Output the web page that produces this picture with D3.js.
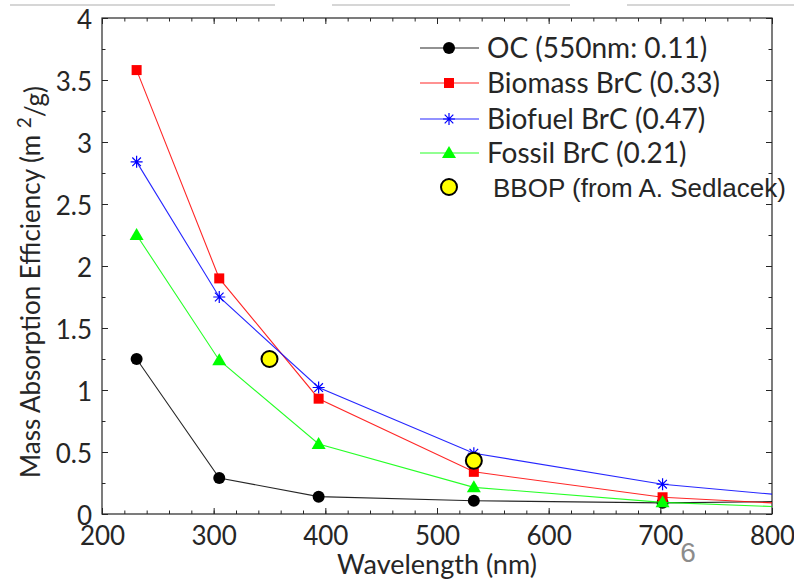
<!DOCTYPE html>
<html><head><meta charset="utf-8">
<script src="https://cdn.jsdelivr.net/npm/d3@7"></script>
<style>body{margin:0;background:#fff}svg{display:block}</style>
</head><body>
<svg id="c" width="794" height="580"></svg>
<script>
// ---- data ----
const wavelengths = [231, 305, 394, 533, 702, 800]; // last entry: line continues to axis edge (no marker)
const markerCount = 5;
const ocValues      = [1.25, 0.29, 0.14, 0.107, 0.09, 0.10];
const biomassValues = [3.58, 1.90, 0.93, 0.34, 0.135, 0.09];
const biofuelValues = [2.84, 1.75, 1.02, 0.49, 0.24, 0.16];
const fossilValues  = [2.25, 1.24, 0.565, 0.215, 0.094, 0.06];
const bbopWavelengths = [350, 533];
const bbopValues      = [1.25, 0.43];
const seriesNames = ["OC (550nm: 0.11)", "Biomass BrC (0.33)", "Biofuel BrC (0.47)", "Fossil BrC (0.21)"];
const bbopName = "BBOP (from A. Sedlacek)";
const xTicks = [200, 300, 400, 500, 600, 700, 800];
const yTicks = [0, 0.5, 1, 1.5, 2, 2.5, 3, 3.5, 4];
const xLabel = "Wavelength (nm)";
const pageNumber = "6";

const svg = d3.select("#c");
const L = 102, R = 772, T = 18, B = 514;
const x = d3.scaleLinear().domain([200, 800]).range([L, R]);
const y = d3.scaleLinear().domain([0, 4]).range([B, T]);
const font = "Lato, 'Open Sans', sans-serif";
const textColor = "#262626";

// slide decoration lines
[[10, 275], [332, 570], [627, 794]].forEach(([a, b]) =>
  svg.append("line").attr("x1", a).attr("x2", b).attr("y1", 5).attr("y2", 5)
    .attr("stroke", "#c8c8c8").attr("stroke-width", 1.5));

// clip
svg.append("clipPath").attr("id", "clip").append("rect")
  .attr("x", L).attr("y", T).attr("width", R - L).attr("height", B - T);

// axes (ticks inward)
const axisColor = "#262626";
function styleAxis(g) {
  g.selectAll("path").attr("stroke", axisColor);
  g.selectAll("line").attr("stroke", axisColor);
  g.selectAll("text").attr("fill", textColor).attr("font-family", font).attr("font-size", 26);
}
const xMinor = d3.range(200, 801, 20);
const yMinor = d3.range(0, 4.01, 0.25);
svg.append("g").attr("transform", `translate(0,${B})`)
  .call(d3.axisBottom(x).tickValues(xMinor).tickSize(-3.5).tickFormat("")).call(styleAxis).select("path").remove();
svg.append("g").attr("transform", `translate(0,${T})`)
  .call(d3.axisTop(x).tickValues(xMinor).tickSize(-3.5).tickFormat("")).call(styleAxis).select("path").remove();
svg.append("g").attr("transform", `translate(${L},0)`)
  .call(d3.axisLeft(y).tickValues(yMinor).tickSize(-3.5).tickFormat("")).call(styleAxis).select("path").remove();
svg.append("g").attr("transform", `translate(${R},0)`)
  .call(d3.axisRight(y).tickValues(yMinor).tickSize(-3.5).tickFormat("")).call(styleAxis).select("path").remove();

const gx = svg.append("g").attr("transform", `translate(0,${B})`)
  .call(d3.axisBottom(x).tickValues(xTicks).tickSize(-6).tickPadding(13).tickFormat(d3.format("d"))).call(styleAxis);
gx.select("path").remove();
svg.append("g").attr("transform", `translate(0,${T})`)
  .call(d3.axisTop(x).tickValues(xTicks).tickSize(-6).tickFormat("")).call(styleAxis).select("path").remove();
const gy = svg.append("g").attr("transform", `translate(${L},0)`)
  .call(d3.axisLeft(y).tickValues(yTicks).tickSize(-6).tickPadding(10).tickFormat(d => String(d))).call(styleAxis);
gy.select("path").remove();
gy.selectAll(".tick text").attr("dy", "0.4em");
svg.append("g").attr("transform", `translate(${R},0)`)
  .call(d3.axisRight(y).tickValues(yTicks).tickSize(-6).tickFormat("")).call(styleAxis).select("path").remove();

svg.append("rect").attr("x", L).attr("y", T).attr("width", R - L).attr("height", B - T)
  .attr("fill", "none").attr("stroke", axisColor).attr("stroke-width", 1.2);

// series
const series = [
  { name: seriesNames[0], values: ocValues, color: "#000000", marker: "circle" },
  { name: seriesNames[1], values: biomassValues, color: "#ff0000", marker: "square" },
  { name: seriesNames[2], values: biofuelValues, color: "#0000ff", marker: "star" },
  { name: seriesNames[3], values: fossilValues, color: "#00ff00", marker: "triangle" }
];
const line = d3.line().x(d => x(d[0])).y(d => y(d[1]));
const plot = svg.append("g").attr("clip-path", "url(#clip)");

function drawMarker(g, type, cx, cy, color) {
  if (type === "circle") {
    g.append("circle").attr("cx", cx).attr("cy", cy).attr("r", 6).attr("fill", color);
  } else if (type === "square") {
    g.append("rect").attr("x", cx - 5).attr("y", cy - 5).attr("width", 10).attr("height", 10).attr("fill", color);
  } else if (type === "triangle") {
    g.append("path").attr("d", `M${cx},${cy - 7}L${cx + 7},${cy + 5}L${cx - 7},${cy + 5}Z`).attr("fill", color);
  } else if (type === "star") {
    const s = 6, d = 4.3;
    g.append("path").attr("d",
      `M${cx - s},${cy}L${cx + s},${cy}M${cx},${cy - s}L${cx},${cy + s}M${cx - d},${cy - d}L${cx + d},${cy + d}M${cx - d},${cy + d}L${cx + d},${cy - d}`)
      .attr("stroke", color).attr("stroke-width", 1.2).attr("fill", "none");
  }
}

series.forEach(s => {
  const pts = wavelengths.map((w, i) => [w, s.values[i]]);
  plot.append("path").attr("d", line(pts)).attr("fill", "none")
    .attr("stroke", s.color).attr("stroke-width", 1.1).attr("opacity", 0.85);
  pts.slice(0, markerCount).forEach(p => drawMarker(plot, s.marker, x(p[0]), y(p[1]), s.color));
});
bbopWavelengths.forEach((w, i) => {
  plot.append("circle").attr("cx", x(w)).attr("cy", y(bbopValues[i])).attr("r", 8)
    .attr("fill", "#ffff00").attr("stroke", "#000").attr("stroke-width", 2);
});

// legend
const legY = [48, 83, 119, 153];
series.forEach((s, i) => {
  const g = svg.append("g");
  g.append("line").attr("x1", 420).attr("x2", 479).attr("y1", legY[i]).attr("y2", legY[i])
    .attr("stroke", s.color).attr("stroke-width", 1.1).attr("opacity", 0.85);
  drawMarker(g, s.marker, 449, legY[i], s.color);
  g.append("text").attr("x", 487).attr("y", legY[i]).attr("dy", "0.36em")
    .attr("font-family", font).attr("font-size", 28).attr("fill", textColor).text(s.name);
});
svg.append("circle").attr("cx", 449).attr("cy", 187).attr("r", 8)
  .attr("fill", "#ffff00").attr("stroke", "#000").attr("stroke-width", 2);
svg.append("text").attr("x", 493).attr("y", 188).attr("dy", "0.36em")
  .attr("font-family", "'Liberation Sans', Arial, sans-serif").attr("font-size", 26).attr("fill", textColor).text(bbopName);

// axis labels
svg.append("text").attr("x", (L + R) / 2).attr("y", 574).attr("text-anchor", "middle")
  .attr("font-family", font).attr("font-size", 27).attr("fill", textColor).text(xLabel);
const yl = svg.append("text").attr("transform", `translate(31,${(T + B) / 2 + 16}) rotate(-90)`)
  .attr("text-anchor", "middle").attr("dy", "0.36em")
  .attr("font-family", font).attr("font-size", 26).attr("fill", textColor);
yl.append("tspan").text("Mass Absorption Efficiency (m ");
yl.append("tspan").attr("dy", "-0.5em").attr("font-size", 19).text("2");
yl.append("tspan").attr("dy", "0.5em").text("/g)");

svg.append("text").attr("x", 688).attr("y", 562)
  .attr("text-anchor", "middle")
  .attr("font-family", "'Liberation Sans', Arial, sans-serif").attr("font-size", 28).attr("fill", "#8c8c8c").text(pageNumber);
</script>
</body></html>
